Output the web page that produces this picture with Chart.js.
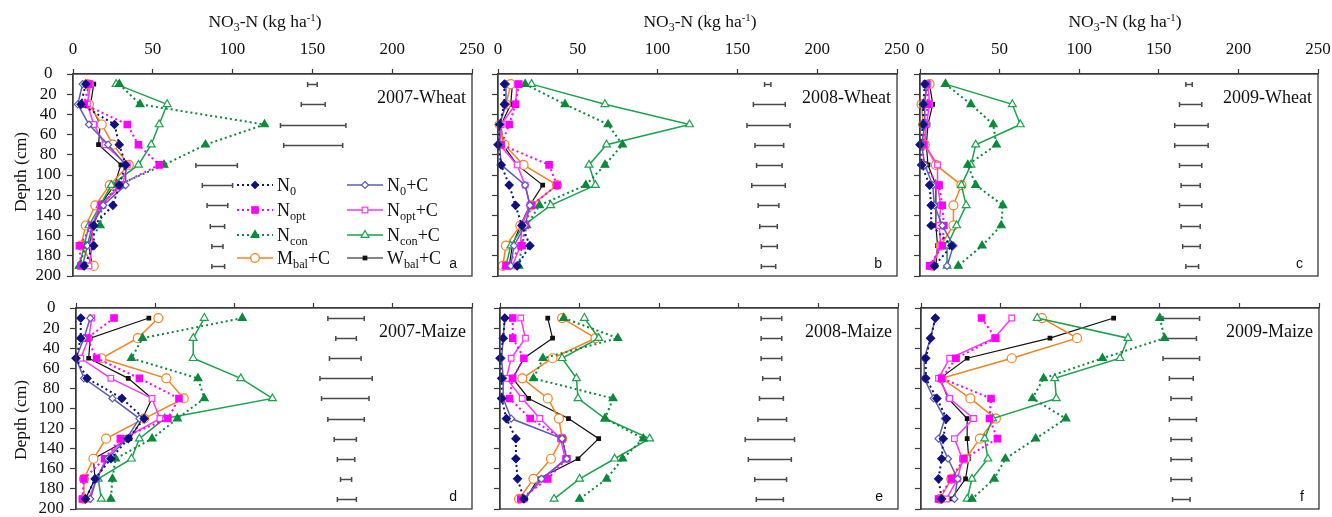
<!DOCTYPE html>
<html><head><meta charset="utf-8">
<script src="https://cdn.jsdelivr.net/npm/chart.js@4/dist/chart.umd.min.js"></script>
<style>
body{margin:0;background:#fff;width:1332px;height:517px;overflow:hidden;position:relative;font-family:"Liberation Serif","Times New Roman",serif;color:#111;}
canvas{position:absolute;}
.t{position:absolute;white-space:nowrap;line-height:18px;}
.t sub{font-size:0.68em;vertical-align:-0.3em;line-height:0;}
.t sup{font-size:0.62em;vertical-align:0.55em;line-height:0;}
.lt{font-family:"Liberation Sans",Arial,sans-serif;font-size:14px;position:absolute;line-height:14px;}
.lg{position:absolute;font-size:18px;line-height:18px;white-space:nowrap;}
.lg svg{position:absolute;left:0;top:2px;}
.lg span{position:absolute;}
</style></head><body>
<script>
// ---------- data ----------
const depths = [10, 30, 50, 70, 90, 110, 130, 150, 170, 190];
const seriesNames = ['N0', 'N0+C', 'Nopt', 'Nopt+C', 'Ncon', 'Ncon+C', 'Mbal+C', 'Wbal+C'];

// 2007-Wheat (a)
const w07_N0    = [8, 5, 26, 29, 33, 29, 25, 13, 13, 7];
const w07_N0C   = [6, 3, 10, 22, 33, 33, 19, 12, 9, 6];
const w07_Nopt  = [10, 7, 34, 41, 54, 29, 18, 12, 4, 5];
const w07_NoptC = [11, 9, 13, 20, 34, 31, 17, 12, 12, 10];
const w07_Ncon  = [29, 42, 120, 83, 57, 28, 18, 17, 8, 4];
const w07_NconC = [27, 59, 54, 49, 41, 24, 17, 10, 7, 4];
const w07_Mbal  = [9, 10, 18, 25, 35, 23, 14, 8, 5, 13];
const w07_Wbal  = [13, 11, 17, 16, 30, 26, 17, 13, 10, 12];
const w07_errLo = [147, 143, 130, 132, 77, 81, 84, 86, 87, 87];
const w07_errHi = [153, 158, 171, 169, 103, 100, 97, 95, 94, 95];

// 2008-Wheat (b)
const w08_N0    = [4, 4, 1, 0, 2, 7, 11, 15, 20, 12];
const w08_N0C   = [5, 5, 1, 1, 2, 17, 20, 17, 10, 8];
const w08_Nopt  = [13, 11, 7, 2, 32, 37, 21, 17, 15, 5];
const w08_NoptC = [12, 11, 2, 1, 12, 17, 20, 15, 14, 9];
const w08_Ncon  = [17, 42, 69, 78, 67, 55, 26, 18, 15, 13];
const w08_NconC = [21, 67, 120, 68, 57, 61, 33, 16, 8, 5];
const w08_Mbal  = [8, 5, 1, 4, 16, 37, 21, 14, 5, 3];
const w08_Wbal  = [9, 8, 2, 3, 12, 28, 20, 14, 9, 7];
const w08_errLo = [167, 160, 156, 161, 162, 159, 163, 164, 165, 165];
const w08_errHi = [171, 180, 183, 179, 178, 180, 176, 175, 175, 174];

// 2009-Wheat (c)
const w09_N0    = [3, 2, 2, 0, 1, 6, 7, 7, 20, 9];
const w09_N0C   = [4, 3, 3, 1, 3, 8, 9, 14, 21, 17];
const w09_Nopt  = [4, 5, 3, 2, 2, 12, 14, 15, 14, 6];
const w09_NoptC = [5, 6, 4, 3, 11, 11, 13, 12, 13, 7];
const w09_Ncon  = [16, 32, 46, 48, 30, 35, 52, 51, 39, 24];
const w09_NconC = [16, 58, 63, 35, 32, 26, 29, 23, 17, 17];
const w09_Mbal  = [6, 1, 2, 3, 10, 26, 21, 21, 13, 8];
const w09_Wbal  = [6, 8, 5, 4, 5, 10, 10, 10, 11, 10];
const w09_errLo = [167, 163, 160, 160, 163, 164, 163, 164, 165, 167];
const w09_errHi = [171, 177, 181, 181, 177, 176, 177, 176, 176, 175];

// 2007-Maize (d)
const m07_N0    = [3, 3, 0, 7, 29, 43, 33, 22, 12, 6];
const m07_N0C   = [9, 5, 0, 5, 23, 40, 32, 20, 13, 9];
const m07_Nopt  = [24, 7, 13, 40, 65, 58, 28, 18, 5, 4];
const m07_NoptC = [10, 8, 3, 22, 48, 53, 30, 19, 13, 8];
const m07_Ncon  = [105, 42, 35, 77, 81, 64, 48, 25, 23, 22];
const m07_NconC = [81, 74, 74, 104, 124, 56, 40, 35, 14, 16];
const m07_Mbal  = [52, 39, 16, 57, 68, 43, 19, 11, 5, 5];
const m07_Wbal  = [46, 9, 8, 33, 48, 42, 34, 11, 12, 6];
const m07_errLo = [159, 164, 160, 154, 155, 159, 163, 165, 167, 165];
const m07_errHi = [182, 177, 180, 187, 185, 182, 177, 176, 174, 177];

// 2008-Maize (e)
const m08_N0    = [3, 2, 0, 1, 1, 4, 10, 10, 11, 15];
const m08_N0C   = [3, 2, 1, 2, 2, 7, 39, 42, 26, 15];
const m08_Nopt  = [8, 8, 15, 8, 6, 19, 39, 42, 30, 13];
const m08_NoptC = [13, 16, 7, 4, 14, 25, 38, 41, 27, 15];
const m08_Ncon  = [40, 74, 27, 21, 71, 66, 90, 77, 67, 50];
const m08_NconC = [53, 62, 39, 48, 49, 66, 94, 72, 50, 34];
const m08_Mbal  = [39, 60, 33, 14, 30, 37, 39, 32, 21, 12];
const m08_Wbal  = [30, 33, 15, 8, 18, 43, 62, 49, 24, 16];
const m08_errLo = [164, 164, 164, 165, 163, 162, 154, 156, 160, 161];
const m08_errHi = [177, 177, 177, 176, 178, 180, 185, 183, 180, 178];

// 2009-Maize (f)
const m09_N0    = [9, 6, 3, 3, 10, 16, 14, 13, 11, 13];
const m09_N0C   = [9, 6, 2, 2, 8, 15, 11, 17, 23, 21];
const m09_Nopt  = [38, 47, 22, 13, 44, 43, 48, 27, 19, 11];
const m09_NoptC = [57, 46, 18, 11, 18, 33, 21, 26, 23, 16];
const m09_Ncon  = [150, 153, 114, 77, 70, 91, 72, 53, 46, 32];
const m09_NconC = [73, 130, 125, 84, 85, 45, 40, 42, 32, 29];
const m09_Mbal  = [76, 98, 57, 13, 31, 47, 37, 28, 19, 12];
const m09_Wbal  = [121, 81, 29, 12, 17, 29, 29, 30, 28, 19];
const m09_errLo = [152, 153, 152, 156, 157, 156, 157, 157, 157, 158];
const m09_errHi = [175, 173, 175, 171, 170, 173, 170, 170, 170, 169];

const xTicks = [0, 50, 100, 150, 200, 250];
const yTicks = [0, 20, 40, 60, 80, 100, 120, 140, 160, 180, 200];

// ---------- styles / layout ----------
const styles = [
  {color:'#101080', dash:[2,3], width:2,   point:'rectRot',  r:4,   fill:'#101080'},
  {color:'#5c5cb8', dash:[],    width:1.5, point:'rectRot',  r:3.5, fill:'#ffffff'},
  {color:'#ff00ff', dash:[2,3], width:2,   point:'rect',     r:4.5, fill:'#ff00ff'},
  {color:'#ff33ff', dash:[],    width:1.5, point:'rect',     r:4,   fill:'#ffffff'},
  {color:'#0a8a3a', dash:[2,3], width:2,   point:'triangle', r:4.5, fill:'#0a8a3a'},
  {color:'#19a34c', dash:[],    width:1.5, point:'triangle', r:4.5, fill:'#ffffff'},
  {color:'#f7821f', dash:[],    width:1.5, point:'circle',   r:4.5, fill:'#ffffff'},
  {color:'#111111', dash:[],    width:1.2, point:'rect',     r:2.5, fill:'#111111'}
];

const panels = [
  {title:'2007-Wheat', letter:'a', l:73,  t:74,  r:472,  b:276, yl:true,  xl:true,
   series:[w07_N0,w07_N0C,w07_Nopt,w07_NoptC,w07_Ncon,w07_NconC,w07_Mbal,w07_Wbal], lo:w07_errLo, hi:w07_errHi},
  {title:'2008-Wheat', letter:'b', l:498, t:74,  r:897,  b:276, yl:false, xl:true,
   series:[w08_N0,w08_N0C,w08_Nopt,w08_NoptC,w08_Ncon,w08_NconC,w08_Mbal,w08_Wbal], lo:w08_errLo, hi:w08_errHi},
  {title:'2009-Wheat', letter:'c', l:920, t:74,  r:1318, b:276, yl:false, xl:true,
   series:[w09_N0,w09_N0C,w09_Nopt,w09_NoptC,w09_Ncon,w09_NconC,w09_Mbal,w09_Wbal], lo:w09_errLo, hi:w09_errHi},
  {title:'2007-Maize', letter:'d', l:76,  t:308, r:472,  b:509, yl:true,  xl:false,
   series:[m07_N0,m07_N0C,m07_Nopt,m07_NoptC,m07_Ncon,m07_NconC,m07_Mbal,m07_Wbal], lo:m07_errLo, hi:m07_errHi},
  {title:'2008-Maize', letter:'e', l:500, t:308, r:898,  b:509, yl:false, xl:false,
   series:[m08_N0,m08_N0C,m08_Nopt,m08_NoptC,m08_Ncon,m08_NconC,m08_Mbal,m08_Wbal], lo:m08_errLo, hi:m08_errHi},
  {title:'2009-Maize', letter:'f', l:921, t:308, r:1319, b:509, yl:false, xl:false,
   series:[m09_N0,m09_N0C,m09_Nopt,m09_NoptC,m09_Ncon,m09_NconC,m09_Mbal,m09_Wbal], lo:m09_errLo, hi:m09_errHi}
];

const AXW = 70, AXH = 74, PADR = 16, PADB = 8;
const serif = 'Liberation Serif';

const errPlugin = {
  id:'errbars',
  beforeDatasetsDraw(chart){
    const o = chart.options.plugins.errbars;
    const {ctx, scales:{x, y}} = chart;
    ctx.save();
    ctx.strokeStyle = '#4a4a4a';
    ctx.lineWidth = 1.5;
    depths.forEach((d, i) => {
      const x1 = x.getPixelForValue(o.lo[i]), x2 = x.getPixelForValue(o.hi[i]);
      const yy = Math.round(y.getPixelForValue(d)) + 0.5;
      ctx.beginPath();
      ctx.moveTo(x1, yy); ctx.lineTo(x2, yy);
      ctx.moveTo(x1, yy - 2.5); ctx.lineTo(x1, yy + 2.5);
      ctx.moveTo(x2, yy - 2.5); ctx.lineTo(x2, yy + 2.5);
      ctx.stroke();
    });
    ctx.restore();
  }
};
const framePlugin = {
  id:'frame',
  afterDraw(chart){
    const {ctx, chartArea:a} = chart;
    ctx.save();
    ctx.strokeStyle = '#3a3a3a';
    ctx.lineWidth = 1.3;
    ctx.strokeRect(a.left, a.top, a.right - a.left, a.bottom - a.top);
    ctx.restore();
  }
};

function addText(html, css, cls){
  const el = document.createElement('div');
  el.className = cls || 't';
  el.innerHTML = html;
  Object.assign(el.style, css);
  document.body.appendChild(el);
  return el;
}

panels.forEach(p => {
  const cv = document.createElement('canvas');
  const W = p.r - p.l + AXW + PADR, H = p.b - p.t + AXH + PADB;
  cv.width = W; cv.height = H;
  cv.style.left = (p.l - AXW) + 'px';
  cv.style.top = (p.t - AXH) + 'px';
  cv.style.width = W + 'px'; cv.style.height = H + 'px';
  document.body.appendChild(cv);

  const datasets = styles.map((s, i) => ({
    label: seriesNames[i],
    data: depths.map((d, j) => ({x: p.series[i][j], y: d})),
    showLine: true,
    borderColor: s.color, borderWidth: s.width, borderDash: s.dash,
    pointStyle: s.point, pointRadius: s.r,
    pointBackgroundColor: s.fill, pointBorderColor: s.color, pointBorderWidth: 1.2,
    tension: 0, clip: false
  }));

  new Chart(cv, {
    type:'scatter',
    data:{datasets},
    options:{
      responsive:false, animation:false, events:[], devicePixelRatio:1,
      layout:{padding:{left:0, top:0, right:PADR, bottom:PADB}},
      plugins:{legend:{display:false}, tooltip:{enabled:false}, errbars:{lo:p.lo, hi:p.hi}},
      scales:{
        x:{type:'linear', position:'top', min:0, max:250,
           afterBuildTicks: s => { s.ticks = xTicks.map(v => ({value:v})); },
           ticks:{display:p.xl, autoSkip:false, color:'#111', padding:9, maxRotation:0, font:{family:serif, size:17}},
           grid:{drawOnChartArea:false, tickLength:5, color:'#3a3a3a', tickWidth:1.2},
           border:{color:'#3a3a3a', width:1.3},
           afterFit: s => { s.height = AXH; s.paddingLeft = 0; s.paddingRight = 0; }},
        y:{type:'linear', reverse:true, min:0, max:200,
           afterBuildTicks: s => { s.ticks = yTicks.map(v => ({value:v})); },
           ticks:{display:p.yl, autoSkip:false, color:'#111', padding:6, crossAlign:'center', font:{family:serif, size:17}},
           grid:{drawOnChartArea:false, tickLength:6, color:'#3a3a3a', tickWidth:1.2},
           border:{color:'#3a3a3a', width:1.3},
           afterFit: s => { s.width = AXW; s.paddingTop = 0; s.paddingBottom = 0; }}
      }
    },
    plugins:[errPlugin, framePlugin]
  });

  // panel title and letter
  addText(p.title, {right:(1332 - p.r + 6) + 'px', top:(p.t + 14) + 'px', fontSize:'18px'});
  addText(p.letter, {right:(1332 - p.r + 15) + 'px', top:(p.b - 20) + 'px'}, 'lt');
});

// axis titles
[265, 700, 1125].forEach(cx => {
  addText('NO<sub>3</sub>-N (kg ha<sup>-1</sup>)', {left:cx + 'px', top:'12px', fontSize:'17.5px', transform:'translateX(-50%)'});
});
[172, 420].forEach(cy => {
  addText('Depth (cm)', {left:'20px', top:cy + 'px', fontSize:'17.5px', transform:'translate(-50%,-50%) rotate(-90deg)'});
});

// legend in panel a
function markerSVG(s){
  const cx = 18, cy = 7, c = s.color, f = s.fill;
  let m = '';
  if (s.point === 'rectRot') m = `<polygon points="${cx},${cy-3.5} ${cx+3.5},${cy} ${cx},${cy+3.5} ${cx-3.5},${cy}" fill="${f}" stroke="${c}" stroke-width="1.2"/>`;
  else if (s.point === 'rect') { const h = s.r * 0.707; m = `<rect x="${cx-h}" y="${cy-h}" width="${2*h}" height="${2*h}" fill="${f}" stroke="${c}" stroke-width="1.2"/>`; }
  else if (s.point === 'triangle') m = `<polygon points="${cx},${cy-4.5} ${cx+3.9},${cy+2.3} ${cx-3.9},${cy+2.3}" fill="${f}" stroke="${c}" stroke-width="1.2"/>`;
  else m = `<circle cx="${cx}" cy="${cy}" r="4.3" fill="${f}" stroke="${c}" stroke-width="1.3"/>`;
  const dash = s.dash.length ? `stroke-dasharray="${s.dash.join(' ')}"` : '';
  return `<svg width="36" height="14"><line x1="0" y1="${cy}" x2="36" y2="${cy}" stroke="${c}" stroke-width="${s.width}" ${dash}/>${m}</svg>`;
}
const legendLabels = ['N<sub>0</sub>', 'N<sub>0</sub>+C', 'N<sub>opt</sub>', 'N<sub>opt</sub>+C', 'N<sub>con</sub>', 'N<sub>con</sub>+C', 'M<sub>bal</sub>+C', 'W<sub>bal</sub>+C'];
const rowsY = [185, 210, 235, 258];
styles.forEach((s, i) => {
  const col = i % 2, row = Math.floor(i / 2);
  const left = col ? 347 : 237;
  const el = document.createElement('div');
  el.className = 'lg t';
  el.style.left = left + 'px';
  el.style.top = (rowsY[row] - 9) + 'px';
  el.innerHTML = markerSVG(s) + `<span style="left:40px;top:0">${legendLabels[i]}</span>`;
  document.body.appendChild(el);
});
</script>
</body></html>
